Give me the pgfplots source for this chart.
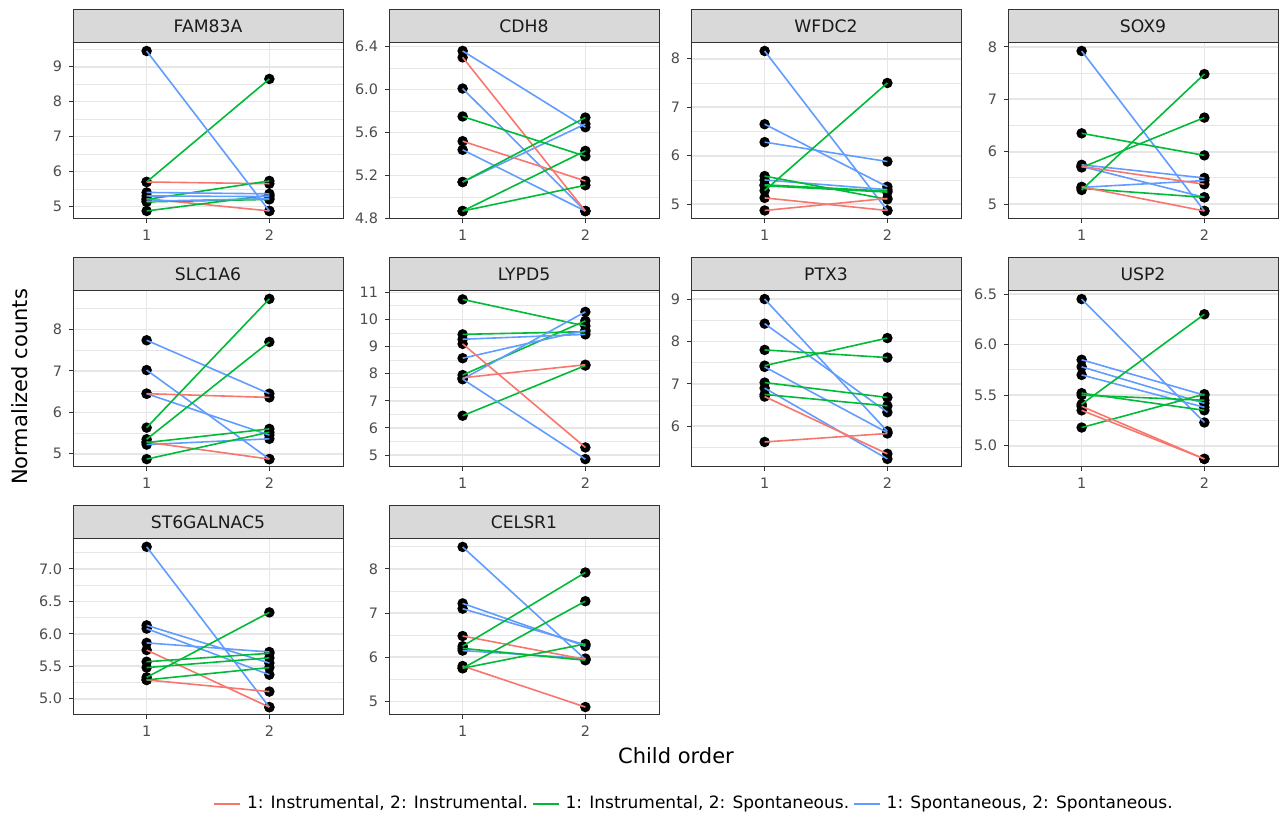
\documentclass[border=0pt]{standalone}
\usepackage{pgfplots}
\pgfplotsset{compat=1.18}
\usepackage{fontspec}
\setmainfont{DejaVu Sans}
\definecolor{gg10}{HTML}{1A1A1A}
\definecolor{gg20}{HTML}{333333}
\definecolor{gg30}{HTML}{4D4D4D}
\definecolor{gg85}{HTML}{D9D9D9}
\definecolor{gg92}{HTML}{E6E6E6}
\definecolor{cR}{HTML}{F8766D}
\definecolor{cG}{HTML}{00BA38}
\definecolor{cB}{HTML}{619CFF}
\pgfplotsset{
  gg/.style={
    set layers, mark layer=pre main,
    scale only axis, width=135pt, height=88pt, anchor=south west,
    xmin=0.4, xmax=2.6, xtick={1,2}, minor xtick={},
    ymajorgrids, yminorgrids, xmajorgrids,
    major grid style={color=gg92, line width=0.8pt},
    minor grid style={color=gg92, line width=0.45pt},
    axis line style={draw=gg20, line width=0.5pt},
    tick align=outside, major tick length=2pt, minor tick length=0pt,
    tick pos=left,
    tick style={draw=gg20, line width=0.5pt},
    tick label style={font=\fontsize{7.2}{8.5}\selectfont, color=gg30},
    /pgf/number format/assume math mode=true,
    clip=false,
    every axis plot/.append style={line width=0.8pt, mark=*, mark size=2.2pt, mark options={draw=black, fill=black, solid}},
  },
  one/.style={yticklabel style={/pgf/number format/.cd, fixed, fixed zerofill, precision=1}},
}
\newcommand\strip[1]{%
  \draw[fill=gg85, draw=gg20, line width=0.5pt] (rel axis cs:0,1) rectangle (rel axis cs:1,1.193);
  \node[font=\fontsize{8.6}{10}\selectfont, text=gg10] at (rel axis cs:0.5,1.0965) {#1};}
\begin{document}
\begin{tikzpicture}
\path (0,0) rectangle (641pt,408.5pt);
% ---------- Row 1
\begin{axis}[gg, at={(36.5pt,299pt)}, ymin=4.64, ymax=9.68, ytick={5,6,7,8,9}, minor ytick={5.5,6.5,7.5,8.5,9.5}]
\addplot[cR] coordinates {(1,5.70) (2,5.65)};
\addplot[cR] coordinates {(1,5.22) (2,4.87)};
\addplot[cG] coordinates {(1,5.70) (2,8.65)};
\addplot[cG] coordinates {(1,5.20) (2,5.73)};
\addplot[cG] coordinates {(1,4.87) (2,5.32)};
\addplot[cG] coordinates {(1,5.13) (2,5.20)};
\addplot[cB] coordinates {(1,9.45) (2,4.87)};
\addplot[cB] coordinates {(1,5.40) (2,5.36)};
\addplot[cB] coordinates {(1,5.30) (2,5.28)};
\addplot[cB] coordinates {(1,5.15) (2,5.22)};
\strip{FAM83A}
\end{axis}
\begin{axis}[gg, one, at={(194.5pt,299pt)}, ymin=4.796, ymax=6.434, ytick={4.8,5.2,5.6,6.0,6.4}, minor ytick={5.0,5.4,5.8,6.2}]
\addplot[cB] coordinates {(1,6.36) (2,5.65)};
\addplot[cB] coordinates {(1,6.01) (2,4.87)};
\addplot[cB] coordinates {(1,5.44) (2,4.87)};
\addplot[cB] coordinates {(1,5.14) (2,5.68)};
\addplot[cR] coordinates {(1,6.30) (2,4.87)};
\addplot[cR] coordinates {(1,5.52) (2,5.15)};
\addplot[cG] coordinates {(1,5.75) (2,5.38)};
\addplot[cG] coordinates {(1,5.14) (2,5.74)};
\addplot[cG] coordinates {(1,4.87) (2,5.43)};
\addplot[cG] coordinates {(1,4.87) (2,5.11)};
\strip{CDH8}
\end{axis}
\begin{axis}[gg, at={(345.5pt,299pt)}, ymin=4.695, ymax=8.325, ytick={5,6,7,8}, minor ytick={5.5,6.5,7.5}]
\addplot[cB] coordinates {(1,8.16) (2,4.87)};
\addplot[cB] coordinates {(1,6.65) (2,5.36)};
\addplot[cB] coordinates {(1,6.28) (2,5.88)};
\addplot[cB] coordinates {(1,5.50) (2,5.30)};
\addplot[cG] coordinates {(1,5.28) (2,7.50)};
\addplot[cG] coordinates {(1,5.58) (2,5.10)};
\addplot[cG] coordinates {(1,5.40) (2,5.27)};
\addplot[cG] coordinates {(1,5.38) (2,5.25)};
\addplot[cR] coordinates {(1,5.13) (2,4.87)};
\addplot[cR] coordinates {(1,4.87) (2,5.12)};
\strip{WFDC2}
\end{axis}
\begin{axis}[gg, at={(504pt,299pt)}, ymin=4.7175, ymax=8.0725, ytick={5,6,7,8}, minor ytick={5.5,6.5,7.5}]
\addplot[cB] coordinates {(1,7.92) (2,4.87)};
\addplot[cB] coordinates {(1,5.75) (2,5.50)};
\addplot[cB] coordinates {(1,5.72) (2,5.13)};
\addplot[cB] coordinates {(1,5.32) (2,5.45)};
\addplot[cG] coordinates {(1,6.35) (2,5.93)};
\addplot[cG] coordinates {(1,5.70) (2,6.65)};
\addplot[cG] coordinates {(1,5.27) (2,7.48)};
\addplot[cG] coordinates {(1,5.30) (2,5.13)};
\addplot[cR] coordinates {(1,5.72) (2,5.38)};
\addplot[cR] coordinates {(1,5.33) (2,4.87)};
\strip{SOX9}
\end{axis}
% ---------- Row 2
\begin{axis}[gg, at={(36.5pt,175pt)}, ymin=4.68, ymax=8.93, ytick={5,6,7,8}, minor ytick={5.5,6.5,7.5,8.5}]
\addplot[cB] coordinates {(1,7.74) (2,6.45)};
\addplot[cB] coordinates {(1,7.02) (2,4.87)};
\addplot[cB] coordinates {(1,6.45) (2,5.45)};
\addplot[cB] coordinates {(1,5.22) (2,5.36)};
\addplot[cR] coordinates {(1,6.45) (2,6.36)};
\addplot[cR] coordinates {(1,5.28) (2,4.87)};
\addplot[cG] coordinates {(1,5.63) (2,8.74)};
\addplot[cG] coordinates {(1,5.35) (2,7.70)};
\addplot[cG] coordinates {(1,5.27) (2,5.60)};
\addplot[cG] coordinates {(1,4.87) (2,5.52)};
\strip{SLC1A6}
\end{axis}
\begin{axis}[gg, at={(194.5pt,175pt)}, ymin=4.56, ymax=11.05, ytick={5,6,7,8,9,10,11}, minor ytick={5.5,6.5,7.5,8.5,9.5,10.5}]
\addplot[cG] coordinates {(1,10.74) (2,9.76)};
\addplot[cG] coordinates {(1,9.45) (2,9.55)};
\addplot[cG] coordinates {(1,7.95) (2,9.95)};
\addplot[cG] coordinates {(1,6.45) (2,8.30)};
\addplot[cB] coordinates {(1,9.27) (2,9.45)};
\addplot[cB] coordinates {(1,8.57) (2,9.60)};
\addplot[cB] coordinates {(1,7.80) (2,10.28)};
\addplot[cB] coordinates {(1,7.80) (2,4.85)};
\addplot[cR] coordinates {(1,9.10) (2,5.28)};
\addplot[cR] coordinates {(1,7.85) (2,8.33)};
\strip{LYPD5}
\end{axis}
\begin{axis}[gg, at={(345.5pt,175pt)}, ymin=5.04, ymax=9.19, ytick={6,7,8,9}, minor ytick={5.5,6.5,7.5,8.5}]
\addplot[cB] coordinates {(1,9.00) (2,5.88)};
\addplot[cB] coordinates {(1,8.42) (2,6.33)};
\addplot[cB] coordinates {(1,7.40) (2,5.85)};
\addplot[cB] coordinates {(1,6.90) (2,5.23)};
\addplot[cG] coordinates {(1,7.80) (2,7.62)};
\addplot[cG] coordinates {(1,7.43) (2,8.08)};
\addplot[cG] coordinates {(1,7.03) (2,6.68)};
\addplot[cG] coordinates {(1,6.75) (2,6.48)};
\addplot[cR] coordinates {(1,6.70) (2,5.35)};
\addplot[cR] coordinates {(1,5.63) (2,5.83)};
\strip{PTX3}
\end{axis}
\begin{axis}[gg, one, at={(504pt,175pt)}, ymin=4.79, ymax=6.53, ytick={5.0,5.5,6.0,6.5}, minor ytick={5.25,5.75,6.25}]
\addplot[cB] coordinates {(1,6.45) (2,5.23)};
\addplot[cB] coordinates {(1,5.85) (2,5.50)};
\addplot[cB] coordinates {(1,5.78) (2,5.42)};
\addplot[cB] coordinates {(1,5.70) (2,5.38)};
\addplot[cG] coordinates {(1,5.52) (2,5.35)};
\addplot[cG] coordinates {(1,5.50) (2,5.45)};
\addplot[cG] coordinates {(1,5.41) (2,6.30)};
\addplot[cG] coordinates {(1,5.18) (2,5.51)};
\addplot[cR] coordinates {(1,5.39) (2,4.87)};
\addplot[cR] coordinates {(1,5.35) (2,4.87)};
\strip{USP2}
\end{axis}
% ---------- Row 3
\begin{axis}[gg, one, at={(36.5pt,51pt)}, ymin=4.75, ymax=7.46, ytick={5.0,5.5,6.0,6.5,7.0}, minor ytick={5.25,5.75,6.25,6.75,7.25}]
\addplot[cB] coordinates {(1,7.34) (2,4.87)};
\addplot[cB] coordinates {(1,6.13) (2,5.55)};
\addplot[cB] coordinates {(1,6.08) (2,5.37)};
\addplot[cB] coordinates {(1,5.86) (2,5.72)};
\addplot[cR] coordinates {(1,5.75) (2,4.87)};
\addplot[cR] coordinates {(1,5.29) (2,5.11)};
\addplot[cG] coordinates {(1,5.57) (2,5.70)};
\addplot[cG] coordinates {(1,5.48) (2,5.63)};
\addplot[cG] coordinates {(1,5.33) (2,6.33)};
\addplot[cG] coordinates {(1,5.29) (2,5.48)};
\strip{ST6GALNAC5}
\end{axis}
\begin{axis}[gg, at={(194.5pt,51pt)}, ymin=4.69, ymax=8.68, ytick={5,6,7,8}, minor ytick={5.5,6.5,7.5,8.5}]
\addplot[cB] coordinates {(1,8.50) (2,5.95)};
\addplot[cB] coordinates {(1,7.22) (2,6.25)};
\addplot[cB] coordinates {(1,7.10) (2,6.28)};
\addplot[cB] coordinates {(1,6.15) (2,5.97)};
\addplot[cR] coordinates {(1,6.48) (2,5.95)};
\addplot[cR] coordinates {(1,5.80) (2,4.87)};
\addplot[cG] coordinates {(1,6.25) (2,7.92)};
\addplot[cG] coordinates {(1,6.20) (2,5.93)};
\addplot[cG] coordinates {(1,5.75) (2,7.27)};
\addplot[cG] coordinates {(1,5.75) (2,6.30)};
\strip{CELSR1}
\end{axis}
% ---------- legend
\begin{axis}[at={(0pt,0pt)}, anchor=south west, hide axis, scale only axis, width=641pt, height=13pt,
  xmin=0, xmax=1, ymin=0, ymax=1,
  legend style={at={(106.5pt,6.5pt)}, anchor=west, draw=none, fill=none, inner sep=0pt,
    legend columns=3, font=\fontsize{8.5}{10}\selectfont,
    /tikz/every even column/.append style={column sep=0pt},
    /tikz/every odd column/.append style={column sep=1pt}},
  legend image code/.code={\draw[#1, line width=0.8pt] (0pt,0pt) -- (13pt,0pt);}]
\addlegendimage{cR}\addlegendentry{1: Instrumental, 2: Instrumental.}
\addlegendimage{cG}\addlegendentry{1: Instrumental, 2: Spontaneous.}
\addlegendimage{cB}\addlegendentry{1: Spontaneous, 2: Spontaneous.}
\end{axis}
% ---------- axis titles
\node[rotate=90, font=\fontsize{10.5}{12}\selectfont] at (10pt,215pt) {Normalized counts};
\node[font=\fontsize{10.5}{12}\selectfont] at (338pt,30.5pt) {Child order};
\end{tikzpicture}
\end{document}
